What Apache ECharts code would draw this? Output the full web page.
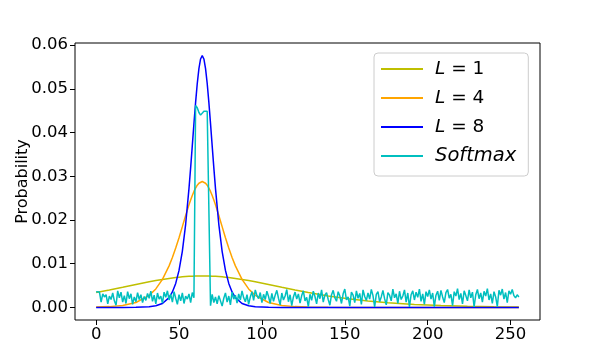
<!DOCTYPE html>
<html>
<head>
<meta charset="utf-8">
<script src="https://cdn.jsdelivr.net/npm/echarts@6/dist/echarts.min.js"></script>
<style>
  html, body { margin: 0; padding: 0; background: #fff; }
  #chart { width: 599px; height: 360px; }
</style>
</head>
<body>
<div id="chart"></div>
<script>
// x positions of the smooth curves
const curveX = [0, 8, 16, 24, 32, 36, 40, 44, 46, 48, 50, 52, 54, 56, 57, 58, 59, 60, 61, 62,
  63, 64, 65, 66, 67, 68, 69, 70, 71, 72, 74, 76, 78, 80, 82, 84, 88, 92, 96, 104,
  112, 120, 128, 140, 152, 164, 176, 192, 208, 224, 240, 255];

const l1Vals = [0.003398, 0.003991, 0.004619, 0.005255, 0.005864, 0.006146, 0.006404, 0.006634, 0.006737, 0.006831,
  0.006915, 0.006989, 0.007053, 0.007105, 0.007127, 0.007146, 0.007163, 0.007176, 0.007187, 0.007194,
  0.007198, 0.0072, 0.007198, 0.007194, 0.007187, 0.007176, 0.007163, 0.007146, 0.007127, 0.007105,
  0.007053, 0.006989, 0.006915, 0.006831, 0.006737, 0.006634, 0.006404, 0.006146, 0.005864, 0.005255,
  0.004619, 0.003991, 0.003398, 0.002609, 0.00196, 0.001449, 0.001058, 0.000687, 0.000441, 0.000281,
  0.000179, 0.000117];

const l4Vals = [0.000072, 0.000181, 0.000453, 0.001126, 0.002747, 0.004233, 0.00642, 0.009508, 0.01143, 0.01359,
  0.01596, 0.01848, 0.02102, 0.02346, 0.02458, 0.02562, 0.02654, 0.02732, 0.02796, 0.02842,
  0.0287, 0.0288, 0.0287, 0.02842, 0.02796, 0.02732, 0.02654, 0.02562, 0.02458, 0.02346,
  0.02102, 0.01848, 0.01596, 0.01359, 0.01143, 0.009508, 0.00642, 0.004233, 0.002747, 0.001126,
  0.000453, 0.000181, 0.000072, 0.000018, 0.000005, 0.000001, 0, 0, 0, 0,
  0, 0];

const l8Vals = [0, 0, 0.000004, 0.000023, 0.000144, 0.000363, 0.000906, 0.002251, 0.003529, 0.005494,
  0.008467, 0.01284, 0.01902, 0.02718, 0.03193, 0.03695, 0.04204, 0.04691, 0.05123, 0.05465,
  0.05684, 0.0576, 0.05684, 0.05465, 0.05123, 0.04691, 0.04204, 0.03695, 0.03193, 0.02718,
  0.01902, 0.01284, 0.008467, 0.005494, 0.003529, 0.002251, 0.000906, 0.000363, 0.000144, 0.000023,
  0.000004, 0, 0, 0, 0, 0, 0, 0, 0, 0,
  0, 0];

// softmax, one value per bin 0..255
const softmaxVals = [
  0.0036, 0.0037, 0.0035, 0.0012, 0.0031, 0.0024, 0.0029, 0.0008, 0.0026, 0.0018,
  0.0033, 0.0015, 0.0005, 0.0038, 0.0022, 0.0035, 0.0012, 0.0027, 0.0009, 0.0036,
  0.0020, 0.0031, 0.0007, 0.0024, 0.0013, 0.0034, 0.0018, 0.0029, 0.0011, 0.0025,
  0.0016, 0.0032, 0.0021, 0.0037, 0.0014, 0.0028, 0.0008, 0.0033, 0.0019, 0.0026,
  0.0010, 0.0035, 0.0023, 0.0038, 0.0017, 0.0030, 0.0012, 0.0036, 0.0021, 0.0007,
  0.0029, 0.0015, 0.0033, 0.0009, 0.0026, 0.0019, 0.0031, 0.0011, 0.0034, 0.0022,
  0.0462, 0.0457, 0.0446, 0.0440, 0.0444, 0.0449, 0.0452, 0.0449, 0.0447,
  0.0004,
  0.0030, 0.0011, 0.0024, 0.0008, 0.0027, 0.0015, 0.0003, 0.0021, 0.0033, 0.0012,
  0.0026, 0.0006, 0.0035, 0.0019, 0.0028, 0.0010, 0.0031, 0.0017, 0.0038, 0.0022,
  0.0013, 0.0029, 0.0007, 0.0024, 0.0036, 0.0016, 0.0040, 0.0027, 0.0020, 0.0034,
  0.0011, 0.0030, 0.0018, 0.0037, 0.0025, 0.0009, 0.0032, 0.0014, 0.0028, 0.0039,
  0.0021, 0.0006, 0.0033, 0.0017, 0.0026, 0.0041, 0.0013, 0.0029, 0.0004, 0.0024,
  0.0035, 0.0019, 0.0031, 0.0010, 0.0027, 0.0038, 0.0015, 0.0023, 0.0002, 0.0030,
  0.0016, 0.0037, 0.0025, 0.0008, 0.0033, 0.0020, 0.0040, 0.0012, 0.0028, 0.0034,
  0.0018, 0.0005, 0.0029, 0.0039, 0.0022, 0.0014, 0.0036, 0.0026, 0.0009, 0.0031,
  0.0042, 0.0017, 0.0024, 0.0003, 0.0035, 0.0028, 0.0011, 0.0038, 0.0021, 0.0032,
  0.0007, 0.0040, 0.0025, 0.0016, 0.0033, 0.0019, 0.0041, 0.0027, 0.0001, 0.0030,
  0.0036, 0.0013, 0.0024, 0.0039, 0.0020, 0.0006, 0.0034, 0.0028, 0.0015, 0.0042,
  0.0022, 0.0031, 0.0009, 0.0037, 0.0018, 0.0026, 0.0040, 0.0012, 0.0033, 0.0001,
  0.0029, 0.0038, 0.0017, 0.0035, 0.0023, 0.0042, 0.0014, 0.0031, 0.0007, 0.0036,
  0.0025, 0.0040, 0.0019, 0.0033, 0.0002, 0.0028, 0.0037, 0.0016, 0.0039, 0.0024,
  0.0011, 0.0034, 0.0041, 0.0021, 0.0030, 0.0004, 0.0036, 0.0026, 0.0043, 0.0018,
  0.0032, 0.0008, 0.0038, 0.0027, 0.0015, 0.0040, 0.0022, 0.0035, 0.0001, 0.0029,
  0.0041, 0.0020, 0.0033, 0.0012, 0.0037, 0.0026, 0.0043, 0.0017, 0.0031, 0.0009,
  0.0036, 0.0024, 0.0002, 0.0039, 0.0028, 0.0042, 0.0019, 0.0034, 0.0011, 0.0038,
  0.0030, 0.0041, 0.0027, 0.0022, 0.0029, 0.0024
];

const seriesNames = ["L=1", "L=4", "L=8", "Softmax"];
const seriesColors = ["#BFBF00", "#FFA500", "#0000FF", "#00BFBF"];
const xTicks = [0, 50, 100, 150, 200, 250];
const yTicks = [0, 0.01, 0.02, 0.03, 0.04, 0.05, 0.06];

const font = "DejaVu Sans";
const chart = echarts.init(document.getElementById("chart"));

function pairs(xs, ys) {
  return ys.map((v, i) => [xs[i], v]);
}

const curves = [l1Vals, l4Vals, l8Vals];
const series = curves.map((vals, i) => ({
  name: seriesNames[i],
  type: "line",
  data: pairs(curveX, vals),
  showSymbol: false,
  lineStyle: { width: 1.5, color: seriesColors[i] },
  itemStyle: { color: seriesColors[i] },
}));
series.push({
  name: seriesNames[3],
  type: "line",
  data: softmaxVals.map((v, i) => [i, v]),
  showSymbol: false,
  lineStyle: { width: 1.5, color: seriesColors[3] },
  itemStyle: { color: seriesColors[3] },
});

const option = {
  animation: false,
  grid: {
    left: 75, right: 59, top: 43, bottom: 40,
    outerBoundsMode: "none",
    containLabel: false,
    show: true, borderColor: "#000", borderWidth: 1,
  },
  xAxis: {
    type: "value",
    min: -12.75,
    max: 267.75,
    axisLine: { show: false, onZero: false },
    splitLine: { show: false },
    axisTick: { show: true, customValues: xTicks, length: 5, lineStyle: { color: "#000" } },
    axisLabel: { customValues: xTicks, color: "#000", fontSize: 16.5, fontFamily: font, margin: 6 },
  },
  yAxis: {
    type: "value",
    min: -0.00288,
    max: 0.0605,
    name: "Probability",
    nameLocation: "middle",
    nameGap: 44,
    nameMoveOverlap: false,
    nameTextStyle: { color: "#000", fontSize: 16, fontFamily: font },
    axisLine: { show: false, onZero: false },
    splitLine: { show: false },
    axisTick: { show: true, customValues: yTicks, length: 5, lineStyle: { color: "#000" } },
    axisLabel: {
      customValues: yTicks, color: "#000", fontSize: 16.5, fontFamily: font, margin: 7,
      formatter: (v) => v.toFixed(2),
    },
  },
  legend: {
    orient: "vertical",
    left: 374,
    top: 53,
    padding: [6, 12, 10, 7],
    itemWidth: 42,
    itemHeight: 2,
    itemGap: 9,
    icon: "rect",
    backgroundColor: "rgba(255,255,255,0.8)",
    borderColor: "#cccccc",
    borderWidth: 1,
    borderRadius: 4,
    data: seriesNames,
    formatter: (name) => (name === "Softmax" ? "{sm|Softmax}" : "{it|L} = " + name.slice(2)),
    textStyle: {
      color: "#000", fontSize: 18.5, fontFamily: font, lineHeight: 20, padding: [0, 0, 0, 7],
      rich: {
        it: { fontStyle: "italic", fontSize: 18.5, fontFamily: font, color: "#000" },
        sm: { fontStyle: "italic", fontSize: 19.5, fontFamily: font, color: "#000" },
      },
    },
  },
  series: series,
};

chart.setOption(option);
</script>
</body>
</html>
